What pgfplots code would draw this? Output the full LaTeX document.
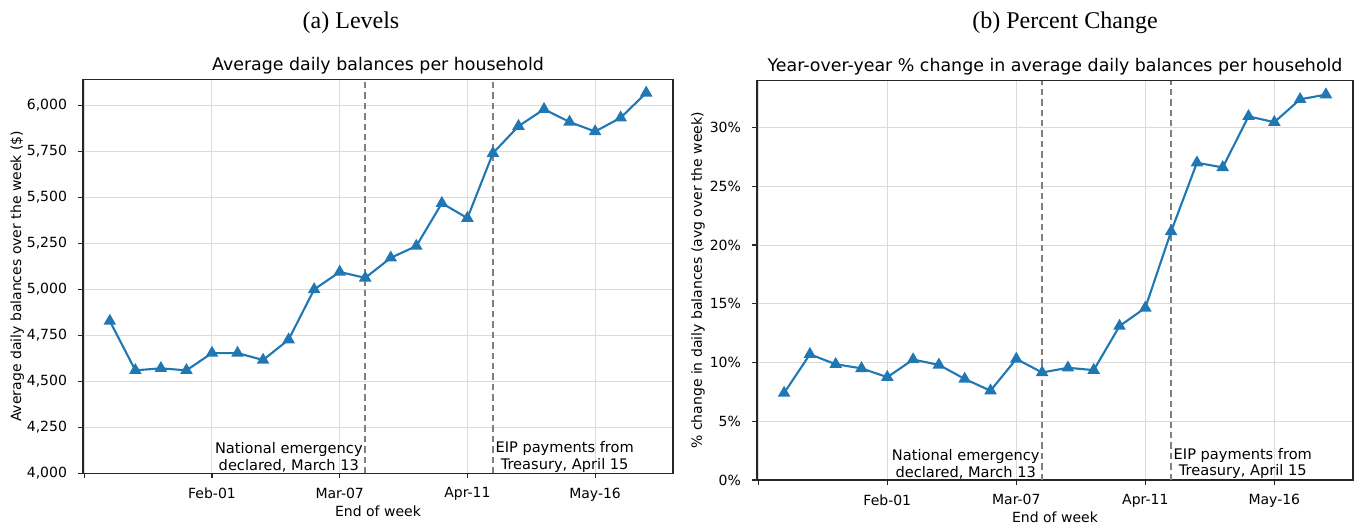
\documentclass[border=0pt]{standalone}
\usepackage{fontspec}
\setmainfont{DejaVu Sans}
\newfontfamily\capfont{Liberation Serif}
\usepackage{pgfplots}
\usepackage{pgfplotstable}
\pgfplotsset{compat=1.18}
\definecolor{mplblue}{HTML}{1F77B4}
\definecolor{dashgray}{HTML}{7F7F7F}

\pgfplotstableread{
idx lev pct
0 4828 7.4
1 4560 10.7
2 4571 9.85
3 4560 9.5
4 4654 8.75
5 4654 10.25
6 4616 9.8
7 4727 8.6
8 5000 7.6
9 5095 10.3
10 5063 9.15
11 5172 9.55
12 5236 9.35
13 5469 13.1
14 5388 14.65
15 5741 21.15
16 5888 27.0
17 5980 26.6
18 5911 30.95
19 5859 30.45
20 5934 32.4
21 6069 32.8
}\datatable

\tikzset{ann/.style={align=center, inner sep=0.3pt, font=\fontsize{7.3}{8.4}\selectfont}}

\begin{document}
\begin{tikzpicture}
\useasboundingbox (0pt,0pt) rectangle (679pt,262.5pt);
\pgfplotsset{
  mystyle/.style={
    scale only axis,
    anchor=south west,
    font=\fontsize{7}{8.4}\selectfont,
    xmin=-1.05, xmax=22.05,
    xtick={-1,4,9,14,19},
    xticklabels={,Feb-01,Mar-07,Apr-11,May-16},
    tick pos=left, tick align=outside,
    major tick length=2.5pt,
    grid=major,
    major grid style={black!14, line width=0.5pt},
    axis line style={black!85, line width=0.65pt},
    every tick/.style={black!85, line width=0.6pt},
    /pgf/number format/assume math mode=true,
    every axis title shift=0pt,
    title style={font=\fontsize{8.7}{10}\selectfont, yshift=-0.8pt},
    tick label style={font=\fontsize{7}{8.4}\selectfont},
    label style={font=\fontsize{7}{8.4}\selectfont},
    xticklabel style={yshift=-1.2pt},
    yticklabel style={xshift=-2pt},
    xlabel={End of week},
    every axis x label/.style={at={(axis description cs:0.5,0)}, anchor=north, yshift=-12.5pt},
  },
  myline/.style={mplblue, line width=1.05pt, mark=triangle*, mark size=2.6pt, mark options={solid}},
  vline/.style={dashgray, line width=0.75pt, dash pattern=on 3.2pt off 2pt},
}

% Panel captions
\node[font=\capfont\fontsize{12}{14}\selectfont, anchor=base] at (175.5pt,248pt) {(a) Levels};
\node[font=\capfont\fontsize{12}{14}\selectfont, anchor=base] at (532.5pt,248pt) {(b) Percent Change};

% Left panel
\begin{axis}[mystyle,
  at={(41.5pt,25.85pt)}, width=295pt, height=197pt,
  ymin=4000, ymax=6143,
  ytick={4000,4250,...,6000},
  scaled y ticks=false,
  yticklabel style={/pgf/number format/.cd, fixed, precision=0, 1000 sep={,}},
  title={Average daily balances per household},
  ylabel={Average daily balances over the week (\$)},
  every axis y label/.style={at={(axis description cs:-0.1115,0.5)}, rotate=90, anchor=center},
]
\addplot[vline] coordinates {(10,4000) (10,6143)};
\addplot[vline] coordinates {(15,4000) (15,6143)};
\addplot[myline] table[x=idx, y=lev] {\datatable};
\node[ann, anchor=south east, xshift=-0.8pt] at (axis cs:10,4000) {National emergency\\declared, March 13};
\node[ann, anchor=south west, xshift=0.8pt] at (axis cs:15,4000) {EIP payments from\\Treasury, April 15};
\end{axis}

% Right panel
\begin{axis}[mystyle,
  at={(378.5pt,22.5pt)}, width=298pt, height=199.75pt,
  ymin=0, ymax=34,
  ytick={0,5,...,30},
  yticklabel={\pgfmathprintnumber{\tick}\%},
  title={Year-over-year \% change in average daily balances per household},
  ylabel={\% change in daily balances (avg over the week)},
  every axis y label/.style={at={(axis description cs:-0.099,0.5)}, rotate=90, anchor=center},
]
\addplot[vline] coordinates {(10,0) (10,34)};
\addplot[vline] coordinates {(15,0) (15,34)};
\addplot[myline] table[x=idx, y=pct] {\datatable};
\node[ann, anchor=south east, xshift=-0.8pt] at (axis cs:10,0) {National emergency\\declared, March 13};
\node[ann, anchor=south west, xshift=0.8pt] at (axis cs:15,0) {EIP payments from\\Treasury, April 15};
\end{axis}
\end{tikzpicture}
\end{document}
